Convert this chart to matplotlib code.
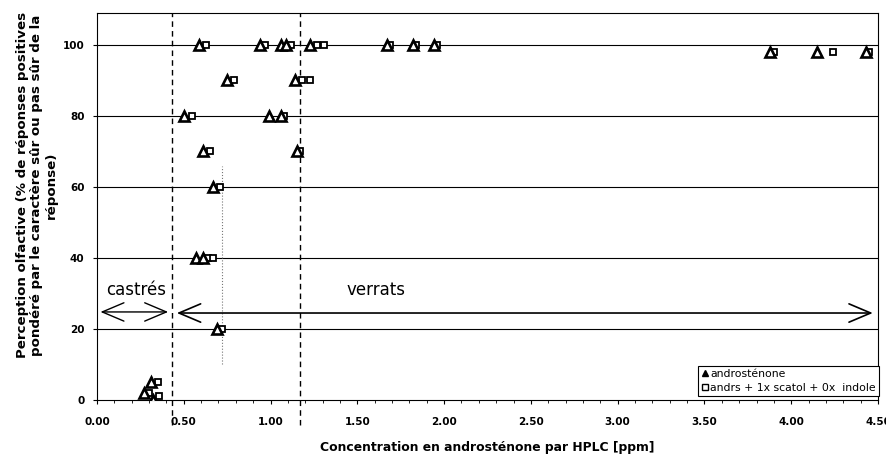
import matplotlib
matplotlib.use("Agg")
import matplotlib.pyplot as plt
from matplotlib.lines import Line2D

plt.rcParams['font.family'] = ['DejaVu Sans']

# androsténone (triangles)
tri_x = [0.59, 0.94, 1.06, 1.09, 1.23, 1.67, 1.82, 1.94, 3.88, 4.15, 4.43,
         0.75, 1.14, 0.50, 0.99, 1.06, 0.61, 1.15, 0.67, 0.57, 0.61, 0.69,
         0.31, 0.27, 0.32]
tri_y = [100, 100, 100, 100, 100, 100, 100, 100, 98, 98, 98,
         90, 90, 80, 80, 80, 70, 70, 60, 40, 40, 20,
         5, 2, 0]
# andrs + 1x scatol + 0x indole (squares)
sq_x = [0.63, 0.97, 1.12, 1.27, 1.31, 1.69, 1.84, 1.96, 3.90, 4.24, 4.45,
        0.79, 1.18, 1.23, 0.55, 1.08, 0.65, 1.17, 0.71, 0.64, 0.67, 0.72,
        0.35, 0.30, 0.36]
sq_y = [100, 100, 100, 100, 100, 100, 100, 100, 98, 98, 98,
        90, 90, 90, 80, 80, 70, 70, 60, 40, 40, 20,
        5, 2, 1]

x_ticks = [0.0, 0.5, 1.0, 1.5, 2.0, 2.5, 3.0, 3.5, 4.0, 4.5]
x_ticklabels = ["0.00", "0.50", "1.00", "1.50", "2.00", "2.50", "3.00", "3.50", "4.00", "4.50"]
y_ticks = [0, 20, 40, 60, 80, 100]
thresholds = [0.43, 1.17]

fig = plt.figure(figsize=(8.87, 4.57), dpi=100)
ax = fig.add_axes([97/887, 57/457, 781/887, 387/457])
ax.set_xlim(0, 4.5)
ax.set_ylim(0, 109)

for yv in y_ticks[1:]:
    ax.axhline(yv, color='black', lw=0.8, zorder=1)

for tx in thresholds:
    ax.plot([tx, tx], [-7, 109], color='black', lw=1.0,
            ls=(0, (4, 3)), clip_on=False, zorder=2)

# faint dotted trace
ax.plot([0.72, 0.72], [10, 66], color='#777777', lw=0.8, ls=':', zorder=1)

ax.plot(tri_x, tri_y, ls='none', marker='^', ms=6.5, mfc='white', mec='black', mew=1.9, zorder=4)
ax.plot(sq_x, sq_y, ls='none', marker='s', ms=5, mfc='white', mec='black', mew=1.3, zorder=3)

# arrows
ax.annotate('', xy=(0.02, 24.8), xytext=(0.41, 24.8),
            arrowprops=dict(arrowstyle='<->,head_length=1.3,head_width=0.55', lw=1.0,
                            color='black', shrinkA=0, shrinkB=0, mutation_scale=12))
ax.annotate('', xy=(0.46, 24.5), xytext=(4.47, 24.5),
            arrowprops=dict(arrowstyle='<->,head_length=1.3,head_width=0.55', lw=1.2,
                            color='black', shrinkA=0, shrinkB=0, mutation_scale=12))
ax.text(0.225, 28.5, 'castrés', fontsize=12, ha='center', va='bottom')
ax.text(1.61, 28.5, 'verrats', fontsize=12, ha='center', va='bottom')

ax.set_xticks(x_ticks)
ax.set_xticklabels(x_ticklabels, fontsize=7.5, fontweight='bold')
ax.set_yticks(y_ticks)
ax.set_yticklabels([str(v) for v in y_ticks], fontsize=7.5, fontweight='bold')
ax.tick_params(axis='both', direction='out', length=3, width=0.8, pad=6)
ax.tick_params(axis='x', pad=9)
ax.set_xticks([i * 0.1 for i in range(46)], minor=True)
ax.tick_params(axis='x', which='minor', direction='out', length=2, width=0.6)
for sp in ax.spines.values():
    sp.set_linewidth(0.8)

ax.set_xlabel('Concentration en androsténone par HPLC [ppm]', fontsize=8.9, fontweight='bold', labelpad=10)
ax.set_ylabel('Perception olfactive (% de réponses positives\npondéré par le caractère sûr ou pas sûr de la\nréponse)',
              fontsize=9.6, fontweight='bold', linespacing=1.15)
ax.yaxis.set_label_coords(-0.05, 0.555)

handles = [Line2D([], [], ls='none', marker='^', ms=5, mfc='black', mec='black'),
           Line2D([], [], ls='none', marker='s', ms=4, mfc='white', mec='black', mew=1.0)]
leg = ax.legend(handles, ['androsténone', 'andrs + 1x scatol + 0x  indole'],
                loc='lower right', bbox_to_anchor=(1.004, 0.005), fontsize=7.8,
                frameon=True, fancybox=False, edgecolor='black', framealpha=1,
                handlelength=0.6, handletextpad=0.2, borderpad=0.3, labelspacing=0.35,
                borderaxespad=0.2)
leg.get_frame().set_linewidth(0.8)

fig.savefig('out.png', dpi=100)
